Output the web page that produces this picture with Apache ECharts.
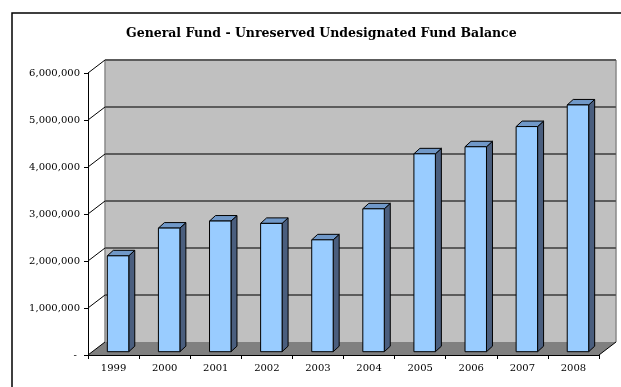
<!DOCTYPE html>
<html>
<head>
<meta charset="utf-8">
<script src="https://cdn.jsdelivr.net/npm/echarts@6/dist/echarts.min.js"></script>
<style>
  html, body { margin: 0; padding: 0; background: #ffffff; }
  #chart { width: 621px; height: 387px; }
</style>
</head>
<body>
<div id="chart"></div>
<script>
// Fiscal years and the unreserved, undesignated balance of the General Fund
const years = ['1999', '2000', '2001', '2002', '2003', '2004', '2005', '2006', '2007', '2008'];
const balances = [2040000, 2630000, 2780000, 2730000, 2380000, 3040000, 4210000, 4360000, 4790000, 5250000];
const valueTicks = [0, 1000000, 2000000, 3000000, 4000000, 5000000, 6000000];

const FONT = 'DejaVu Serif';
const WALL_DEPTH = [17, -13];   // offset of the back wall from the front plane
const BAR_SHIFT = [4.5, -3.3];  // bars sit a little behind the front plane
const BAR_DEPTH = [6, -5.5];    // visible depth of each column
const BAR_RATIO = 0.42;         // column width as a share of the category band

const chart = echarts.init(document.getElementById('chart'), null, { renderer: 'canvas' });

function fmtValue(v) {
  if (v === 0) return '- ';
  return v.toLocaleString('en-US');
}

// Back wall, floor and side-wall gridlines of the 3-D plot area
function renderWalls(params, api) {
  const band = api.size([1, 0])[0];
  const n = years.length;
  const x0 = api.coord([0, 0])[0] - band / 2;
  const x1 = api.coord([n - 1, 0])[0] + band / 2;
  const yBase = api.coord([0, 0])[1];
  const yTop = api.coord([0, valueTicks[valueTicks.length - 1]])[1];
  const [dx, dy] = WALL_DEPTH;
  const children = [];

  children.push({
    type: 'rect',
    shape: { x: x0 + dx, y: yTop + dy, width: x1 - x0, height: yBase - yTop },
    style: { fill: '#c0c0c0' }
  });
  children.push({
    type: 'polygon',
    shape: { points: [[x0, yBase], [x1, yBase], [x1 + dx, yBase + dy], [x0 + dx, yBase + dy]] },
    style: { fill: '#808080' }
  });
  // vertical edges of the back wall
  children.push({
    type: 'line',
    shape: { x1: x0 + dx, y1: yTop + dy, x2: x0 + dx, y2: yBase + dy },
    style: { stroke: '#8a8a8a', lineWidth: 1.5 }
  });
  children.push({
    type: 'line',
    shape: { x1: x1 + dx, y1: yTop + dy, x2: x1 + dx, y2: yBase + dy },
    style: { stroke: '#8a8a8a', lineWidth: 1.5 }
  });
  valueTicks.forEach(function (t) {
    const y = api.coord([0, t])[1];
    if (t !== 0) {
      children.push({
        type: 'line',
        shape: { x1: x0 + dx, y1: y + dy, x2: x1 + dx, y2: y + dy },
        style: { stroke: '#5c5c5c', lineWidth: 2 }
      });
    }
    children.push({
      type: 'line',
      shape: { x1: x0, y1: y, x2: x0 + dx, y2: y + dy },
      style: { stroke: '#000000', lineWidth: 1 }
    });
  });
  // right edge of the floor
  children.push({
    type: 'line',
    shape: { x1: x1, y1: yBase, x2: x1 + dx, y2: yBase + dy },
    style: { stroke: '#000000', lineWidth: 1 }
  });
  return { type: 'group', children: children };
}

// One shaded column: front face, right side and top
function renderColumn(params, api) {
  const i = api.value(0);
  const v = api.value(1);
  const top = api.coord([i, v]);
  const base = api.coord([i, 0]);
  const w = api.size([1, 0])[0] * BAR_RATIO;
  const xl = top[0] - w / 2 + BAR_SHIFT[0];
  const xr = xl + w;
  const yt = top[1] + BAR_SHIFT[1];
  const yb = base[1] + BAR_SHIFT[1];
  const [ddx, ddy] = BAR_DEPTH;
  const edge = { stroke: '#000000', lineWidth: 1, lineJoin: 'round' };
  return {
    type: 'group',
    children: [
      {
        type: 'polygon',
        shape: { points: [[xr, yt], [xr + ddx, yt + ddy], [xr + ddx, yb + ddy], [xr, yb]] },
        style: Object.assign({ fill: '#4a5e7e' }, edge)
      },
      {
        type: 'polygon',
        shape: { points: [[xl, yt], [xl + ddx, yt + ddy], [xr + ddx, yt + ddy], [xr, yt]] },
        style: Object.assign({ fill: '#7098c8' }, edge)
      },
      {
        type: 'rect',
        shape: { x: xl, y: yt, width: w, height: yb - yt },
        style: Object.assign({ fill: '#99ccff' }, edge)
      }
    ]
  };
}

const option = {
  backgroundColor: '#ffffff',
  animation: false,
  title: {
    text: 'General Fund - Unreserved Undesignated Fund Balance',
    left: 121,
    top: 22,
    textStyle: { fontFamily: FONT, fontWeight: 'bold', fontSize: 12.5, color: '#000000' }
  },
  graphic: [
    {
      type: 'rect',
      shape: { x: 12, y: 13, width: 700, height: 500 },
      style: { fill: null, stroke: '#000000', lineWidth: 1.5 },
      silent: true
    }
  ],
  grid: { left: 88, right: 22, top: 73, bottom: 32, containLabel: false },
  xAxis: {
    type: 'category',
    data: years,
    z: 10,
    boundaryGap: true,
    axisLine: { show: true, lineStyle: { color: '#000000', width: 1 } },
    axisTick: { show: true, alignWithLabel: false, length: 4, lineStyle: { color: '#000000' } },
    axisLabel: { fontFamily: FONT, fontSize: 10, color: '#000000', margin: 8 },
    splitLine: { show: false }
  },
  yAxis: {
    type: 'value',
    min: 0,
    max: 6000000,
    interval: 1000000,
    z: 10,
    axisLine: { show: true, lineStyle: { color: '#000000', width: 1 } },
    axisTick: { show: true, length: 4, lineStyle: { color: '#000000' } },
    axisLabel: { fontFamily: FONT, fontSize: 10, color: '#000000', margin: 8, formatter: fmtValue },
    splitLine: { show: false }
  },
  series: [
    {
      type: 'custom',
      name: 'walls',
      clip: false,
      silent: true,
      renderItem: renderWalls,
      data: [[0, 0]],
      encode: { x: 0, y: 1 }
    },
    {
      type: 'custom',
      name: 'Fund Balance',
      clip: false,
      renderItem: renderColumn,
      data: balances.map(function (v, i) { return [i, v]; }),
      encode: { x: 0, y: 1 }
    }
  ]
};

chart.setOption(option);
</script>
</body>
</html>
